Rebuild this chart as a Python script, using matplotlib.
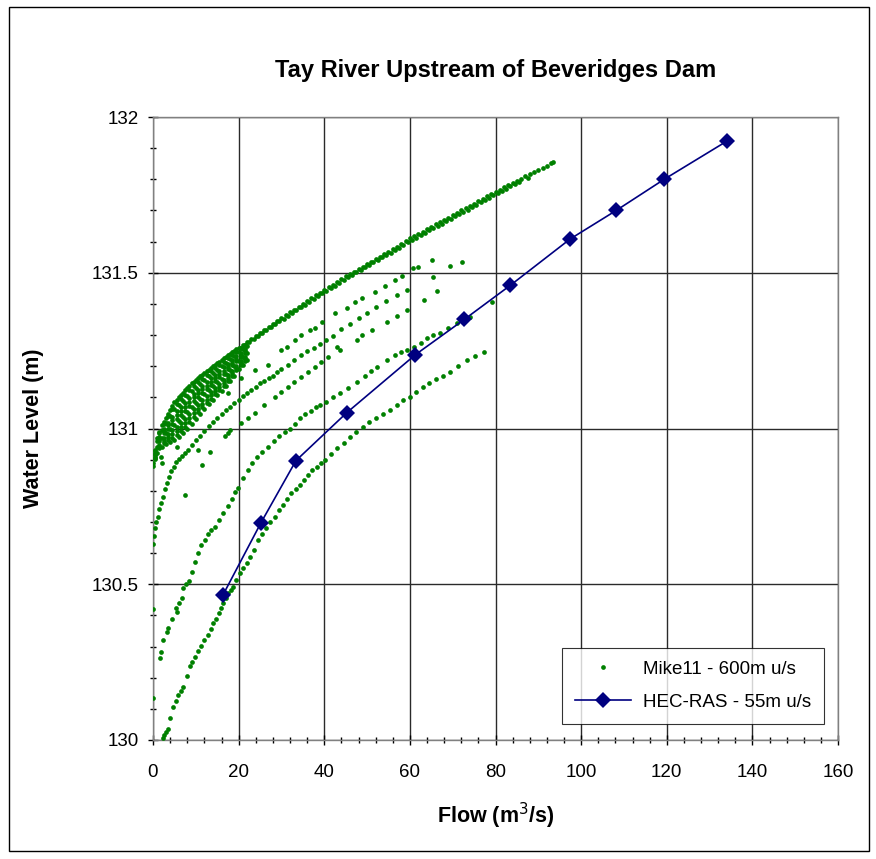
import matplotlib
matplotlib.use("Agg")
import matplotlib.pyplot as plt
from matplotlib.patches import Rectangle
from matplotlib.ticker import MultipleLocator, FuncFormatter

plt.rcParams['font.family'] = ['Liberation Sans', 'DejaVu Sans']

# ---------------- Mike11 - 600m u/s (scatter, by branch) -------------
# upper envelope (falling limbs)
upper_x = [0, 0.5, 1, 1.5, 2, 2.5, 3, 3.5, 4, 4.5, 5, 5.5, 6, 6.5, 7, 7.5, 8, 8.5, 9, 9.5,
           10, 10.5, 11, 11.5, 12, 12.5, 13, 13.5, 14, 14.5, 15, 15.5, 16, 16.5, 17, 17.5,
           18, 18.5, 19, 19.5, 20, 21, 22, 23, 24, 25, 26, 27, 28, 29, 30, 31, 32, 33, 34,
           35, 36, 37, 38, 39, 40, 41, 42, 43, 44, 45, 46, 47, 48, 49, 50, 51, 52, 53, 54,
           55, 56, 57, 58, 59, 60, 61, 62, 63, 64, 65, 66, 67, 68, 69, 70, 71, 72, 73, 74,
           75, 76, 77, 78, 79, 80, 81, 82, 83, 84, 85, 86, 87, 88, 89, 90, 91, 92, 93, 93.5]
upper_y = [130.89, 130.93, 130.97, 130.99, 131.01, 131.022, 131.035, 131.048, 131.06, 131.072,
           131.085, 131.092, 131.10, 131.108, 131.115, 131.122, 131.13, 131.138, 131.145, 131.15,
           131.155, 131.161, 131.167, 131.172, 131.178, 131.183, 131.189, 131.194, 131.20, 131.205,
           131.21, 131.215, 131.22, 131.225, 131.23, 131.235, 131.24, 131.245, 131.249, 131.254,
           131.258, 131.268, 131.278, 131.288, 131.298, 131.308, 131.317, 131.327, 131.336, 131.345,
           131.355, 131.364, 131.373, 131.382, 131.391, 131.400, 131.409, 131.418, 131.427, 131.436,
           131.445, 131.454, 131.462, 131.471, 131.479, 131.488, 131.496, 131.504, 131.512, 131.520,
           131.528, 131.536, 131.544, 131.552, 131.560, 131.568, 131.576, 131.584, 131.593, 131.601,
           131.610, 131.617, 131.625, 131.632, 131.640, 131.647, 131.655, 131.662, 131.670, 131.677,
           131.685, 131.692, 131.700, 131.707, 131.715, 131.722, 131.730, 131.737, 131.745, 131.752,
           131.760, 131.767, 131.774, 131.781, 131.788, 131.795, 131.802, 131.809, 131.816, 131.823,
           131.830, 131.837, 131.844, 131.851, 131.855]
# a second, slightly lower row of the same envelope (overlapping events)
upper2_x = [20.5, 21.5, 22.5, 23.5, 24.5, 25.5, 26.5, 27.5, 28.5, 29.5, 30.5, 31.5, 32.5,
            33.5, 34.5, 35.5, 36.5, 37.5, 38.5, 39.5, 40.5, 41.5, 42.5, 43.5, 44.5, 45.5,
            46.5, 47.5, 48.5, 49.5, 50.5, 51.5, 52.5, 53.5, 54.5, 55.5, 56.5, 57.5, 58.5,
            59.5, 60.5, 61.5, 62.5, 63.5, 64.5, 65.5, 66.5, 67.5, 68.5, 69.5, 70.5, 71.5,
            72.5, 73.5, 74.5, 75.5, 76.5, 77.5, 78.5, 79.5, 80.5, 81.5, 82.5, 83.5, 84.5,
            85.5, 87.5]
upper2_y = [131.257, 131.267, 131.277, 131.287, 131.297, 131.306, 131.316, 131.325, 131.334,
            131.344, 131.353, 131.362, 131.371, 131.380, 131.389, 131.398, 131.407, 131.416,
            131.425, 131.434, 131.443, 131.451, 131.459, 131.468, 131.476, 131.485, 131.493,
            131.501, 131.509, 131.517, 131.525, 131.533, 131.541, 131.549, 131.557, 131.565,
            131.573, 131.581, 131.590, 131.598, 131.606, 131.613, 131.621, 131.629, 131.636,
            131.643, 131.651, 131.658, 131.666, 131.673, 131.681, 131.688, 131.696, 131.703,
            131.711, 131.718, 131.726, 131.733, 131.741, 131.748, 131.756, 131.763, 131.770,
            131.777, 131.784, 131.791, 131.805]

# dense fan of low-flow loops
fan1_x = [0, 1, 2, 3, 4, 5, 6, 7, 8, 9, 10, 11, 12, 13, 14, 15, 16, 17, 18, 19, 20, 21, 22]
fan1_y = [130.88, 130.92, 130.94, 130.95, 130.956, 130.963, 130.972, 130.985, 131.0, 131.016,
          131.032, 131.048, 131.064, 131.078, 131.092, 131.106, 131.12, 131.136, 131.152, 131.17,
          131.19, 131.205, 131.22]
fan_int_x = [1, 2, 3, 4, 5, 6, 7, 8, 9, 10, 11, 12, 13, 14, 15, 16, 17, 18, 19, 20, 21, 22]
fan_half_x = [0.5, 1.5, 2.5, 3.5, 4.5, 5.5, 6.5, 7.5, 8.5, 9.5, 10.5, 11.5, 12.5, 13.5, 14.5,
              15.5, 16.5, 17.5, 18.5, 19.5, 20.5, 21.5]
fan2_y = [130.906, 130.942, 130.960, 130.972, 130.982, 130.992, 131.004, 131.018, 131.034,
          131.049, 131.064, 131.079, 131.093, 131.107, 131.12, 131.133, 131.147, 131.162,
          131.178, 131.195, 131.21, 131.224]
fan3_y = [130.94, 130.968, 130.984, 130.998, 131.012, 131.023, 131.037, 131.052, 131.068,
          131.081, 131.096, 131.11, 131.122, 131.135, 131.148, 131.16, 131.174, 131.187,
          131.202, 131.217, 131.23, 131.243]
fan4_y = [130.918, 130.966, 130.991, 131.01, 131.027, 131.042, 131.056, 131.07, 131.086,
          131.10, 131.113, 131.126, 131.138, 131.15, 131.163, 131.174, 131.186, 131.199,
          131.211, 131.224, 131.237, 131.249]
fan5_y = [130.96, 130.996, 131.018, 131.039, 131.061, 131.074, 131.089, 131.104, 131.119,
          131.13, 131.143, 131.155, 131.167, 131.178, 131.189, 131.20, 131.211, 131.222,
          131.233, 131.244, 131.255, 131.266]
fan6_y = [130.903, 130.936, 130.953, 130.963, 130.971, 130.98, 130.991, 131.005, 131.021,
          131.037, 131.052, 131.068, 131.082, 131.096, 131.11, 131.123, 131.138, 131.153,
          131.169, 131.187, 131.204, 131.218]
fan7_y = [130.909, 130.948, 130.968, 130.982, 130.994, 131.005, 131.017, 131.031, 131.047,
          131.062, 131.076, 131.091, 131.105, 131.118, 131.131, 131.144, 131.157, 131.171,
          131.186, 131.202, 131.217, 131.23]
fan8_y = [130.915, 130.96, 130.984, 131.0, 131.016, 131.03, 131.043, 131.057, 131.073,
          131.087, 131.10, 131.114, 131.127, 131.14, 131.152, 131.164, 131.176, 131.19,
          131.203, 131.217, 131.23, 131.242]
fan9_y = [130.921, 130.972, 130.999, 131.019, 131.038, 131.055, 131.069, 131.083, 131.099,
          131.112, 131.125, 131.137, 131.149, 131.161, 131.173, 131.184, 131.196, 131.208,
          131.22, 131.232, 131.243, 131.255]
fan10_y = [130.927, 130.984, 131.014, 131.039, 131.061, 131.08, 131.095, 131.109, 131.125,
           131.137, 131.149, 131.16, 131.172, 131.183, 131.194, 131.205, 131.215, 131.226,
           131.237, 131.247, 131.257, 131.267]

# second continuous branch (starts near 130.63 at zero flow)
second_x = [0.1, 0.3, 0.5, 0.8, 1.1, 1.5, 1.9, 2.3, 2.8, 3.3, 3.8, 4.3, 4.8, 5.4, 6, 6.7, 7.4,
            8.2, 9, 10, 11, 12, 13, 14, 15, 16, 17, 18, 19, 20, 21, 22, 23, 24, 25, 26, 27, 28,
            29, 30, 31.5, 33, 34.5, 36, 37.5, 39, 40.5, 42, 44, 46, 48, 50, 52, 54.5, 57]
second_y = [130.63, 130.655, 130.68, 130.70, 130.715, 130.74, 130.76, 130.78, 130.805, 130.826,
            130.845, 130.862, 130.878, 130.892, 130.903, 130.913, 130.922, 130.932, 130.946,
            130.962, 130.977, 130.992, 131.007, 131.02, 131.033, 131.046, 131.058, 131.07,
            131.081, 131.092, 131.103, 131.114, 131.124, 131.134, 131.145, 131.153, 131.162,
            131.170, 131.18, 131.19, 131.205, 131.22, 131.235, 131.248, 131.26, 131.272,
            131.285, 131.298, 131.318, 131.336, 131.354, 131.372, 131.39, 131.41, 131.43]

# dotted branch just under the envelope
dotA_x = [17.5, 20.6, 23.8, 26.9, 30, 31.2, 33.2, 34.6, 36.7, 37.8, 39.4, 42.5, 45.3, 47.2,
          48.8, 51.9, 54.2, 56.5, 58.1, 60.8, 62, 65.1, 69.4, 72.1]
dotA_y = [131.113, 131.161, 131.188, 131.204, 131.252, 131.263, 131.284, 131.30, 131.316,
          131.322, 131.343, 131.37, 131.386, 131.407, 131.418, 131.439, 131.458, 131.477,
          131.491, 131.514, 131.52, 131.54, 131.523, 131.534]

# dotted branch between second and third branches
dotC_x = [17.5, 20.6, 22.2, 23.8, 26, 28.4, 30, 31.5, 33, 34.6, 36.2, 37.8, 39.3, 40.9, 42.9,
          43.7, 47.6, 48.8, 51.1, 54.6, 56.9, 59.3, 63.2, 66.3, 65.5, 59.3]
dotC_y = [130.985, 131.017, 131.033, 131.049, 131.075, 131.102, 131.118, 131.134, 131.15,
          131.166, 131.182, 131.198, 131.214, 131.23, 131.263, 131.252, 131.284, 131.30,
          131.316, 131.343, 131.36, 131.38, 131.413, 131.44, 131.487, 131.445]

# third branch
third_x = [1.6, 1.95, 2.4, 3.2, 3.6, 4.4, 5.4, 5.5, 6.0, 6.7, 7.1, 7.6, 8.4, 9.0, 9.8, 10.5,
           11.3, 12.1, 12.8, 13.6, 14.4, 15.4, 16.4, 17.5, 18.4, 19.2, 19.9, 21, 22.2, 23.2,
           24.2, 25.5, 26.9, 28.2, 29.5, 30.8, 32, 33.2, 34.3, 35.5, 36.8, 38, 39, 40.5, 42,
           43.7, 45.5, 47.6, 49.5, 51, 52.3, 54.6, 56.5, 58, 59.3, 61, 62.5, 63.9, 65.5, 67.1,
           69, 71, 74.1, 79.1]
third_y = [130.263, 130.284, 130.32, 130.348, 130.36, 130.39, 130.425, 130.412, 130.44,
           130.456, 130.488, 130.5, 130.51, 130.54, 130.573, 130.6, 130.625, 130.642, 130.66,
           130.673, 130.685, 130.705, 130.728, 130.75, 130.775, 130.795, 130.81, 130.84,
           130.867, 130.89, 130.91, 130.925, 130.942, 130.96, 130.975, 130.99, 131.0, 131.015,
           131.035, 131.045, 131.055, 131.068, 131.076, 131.085, 131.1, 131.113, 131.13,
           131.15, 131.17, 131.185, 131.198, 131.22, 131.235, 131.245, 131.252, 131.262,
           131.275, 131.29, 131.3, 131.306, 131.322, 131.338, 131.359, 131.407]

# lowest branch
low_x = [2.3, 2.5, 3.0, 3.5, 4, 4.7, 5.3, 5.9, 6.5, 7.1, 7.9, 8.6, 9.2, 9.8, 10.6, 11.2, 11.8,
         12.9, 13.5, 14.1, 14.7, 15.3, 15.9, 16.4, 17, 17.6, 18.2, 18.8, 19.5, 20.3, 21.1, 21.9,
         22.7, 23.6, 24.5, 25.5, 26.5, 27.4, 28.4, 29.4, 30.4, 31.4, 32.3, 33.3, 34.3, 35.3,
         36.2, 37.2, 38.2, 39.2, 40.1, 41.5, 43, 44.5, 46, 47.5, 49, 50.5, 52, 53.7, 55.4, 57,
         58.5, 60, 61.5, 63, 64.5, 66, 67.7, 69.4, 71.3, 73.3, 75.2, 77.2]
low_y = [130.006, 130.015, 130.025, 130.035, 130.07, 130.107, 130.125, 130.144, 130.158,
         130.17, 130.205, 130.236, 130.25, 130.268, 130.285, 130.302, 130.32, 130.337, 130.356,
         130.375, 130.39, 130.407, 130.424, 130.44, 130.456, 130.471, 130.482, 130.492, 130.513,
         130.535, 130.552, 130.567, 130.588, 130.61, 130.642, 130.66, 130.68, 130.70, 130.717,
         130.737, 130.756, 130.775, 130.792, 130.805, 130.818, 130.835, 130.852, 130.866,
         130.878, 130.889, 130.899, 130.918, 130.937, 130.955, 130.974, 130.99, 131.006,
         131.021, 131.035, 131.048, 131.06, 131.075, 131.09, 131.102, 131.118, 131.133,
         131.146, 131.16, 131.17, 131.182, 131.2, 131.22, 131.233, 131.247]

# isolated points
stray_x = [0, 0, 7.4, 11.5, 13.2, 16.8, 18, 1.9, 2.0, 10.5, 5.5]
stray_y = [130.42, 130.135, 130.787, 130.883, 130.926, 130.976, 130.995, 130.91, 130.89,
           130.93, 130.94]

# ---------------- HEC-RAS - 55m u/s ----------------
hec_x = [16.4, 25.2, 33.4, 45.2, 61.3, 72.7, 83.5, 97.4, 108.2, 119.4, 134.1]
hec_y = [130.467, 130.697, 130.897, 131.05, 131.237, 131.35, 131.46, 131.608, 131.70, 131.80, 131.923]

x_ticks = [0, 20, 40, 60, 80, 100, 120, 140, 160]
y_ticks = [130, 130.5, 131, 131.5, 132]

mike_x = (upper_x + upper2_x + fan1_x + fan_half_x + fan_int_x + fan_half_x + fan_int_x +
          fan_half_x * 5 + second_x + dotA_x + dotC_x + third_x + low_x + stray_x)
mike_y = (upper_y + upper2_y + fan1_y + fan2_y + fan3_y + fan4_y + fan5_y +
          fan6_y + fan7_y + fan8_y + fan9_y + fan10_y +
          second_y + dotA_y + dotC_y + third_y + low_y + stray_y)

fig = plt.figure(figsize=(8.76, 8.59), dpi=100)
ax = fig.add_axes([153 / 876, 1 - 740 / 859, (838 - 153) / 876, (740 - 117) / 859])

green = '#008000'
navy = '#000080'

ax.plot(mike_x, mike_y, linestyle='none', marker='o', markersize=3.4,
        markeredgewidth=0, color=green, label='Mike11 - 600m u/s', zorder=3)
ax.plot(hec_x, hec_y, color=navy, linewidth=1.2, marker='D', markersize=8.3,
        markeredgewidth=0, label='HEC-RAS - 55m u/s', zorder=4)

ax.set_xlim(0, 160)
ax.set_ylim(130, 132)
ax.set_xticks(x_ticks)
ax.set_yticks(y_ticks)
ax.xaxis.set_minor_locator(MultipleLocator(4))
ax.yaxis.set_minor_locator(MultipleLocator(0.1))
ax.yaxis.set_major_formatter(FuncFormatter(lambda v, p: '%g' % v))
ax.grid(True, which='major', color='#2a2a2a', linewidth=1.0)
ax.set_axisbelow(True)
for s in ax.spines.values():
    s.set_color('#808080')
    s.set_linewidth(1.0)
ax.tick_params(which='major', direction='inout', length=7, width=1.0, color='#000000',
               labelsize=13.5)
ax.tick_params(axis='x', which='major', pad=14)
ax.tick_params(axis='y', which='major', pad=7)
ax.tick_params(which='minor', direction='inout', length=5, width=1.0, color='#000000')
ax.tick_params(axis='y', which='both', right=False)
ax.tick_params(axis='x', which='both', top=False)

ax.set_title('Tay River Upstream of Beveridges Dam', fontsize=17, fontweight='bold', pad=29)
ax.set_xlabel('Flow (m$^3$/s)', fontsize=15.5, fontweight='bold', labelpad=14)
ax.set_ylabel('Water Level (m)', fontsize=15.5, fontweight='bold', labelpad=34)

leg = ax.legend(loc='lower right', bbox_to_anchor=(0.9795, 0.0255), fontsize=13.5,
                frameon=True, fancybox=False, borderpad=0.7, labelspacing=0.85,
                handlelength=3.0, handletextpad=0.6, markerscale=1.0, borderaxespad=0)
leg.get_frame().set_edgecolor('#000000')
leg.get_frame().set_linewidth(0.8)

fig.patches.append(Rectangle((9 / 876, 1 - 851 / 859), (869 - 9) / 876, (851 - 7) / 859,
                             transform=fig.transFigure, fill=False, edgecolor='black',
                             linewidth=1.0))

fig.savefig('out.png', dpi=100)
